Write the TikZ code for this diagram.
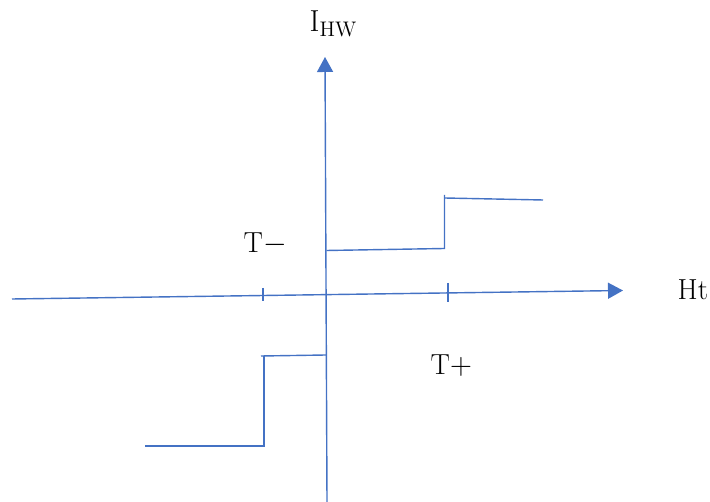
\documentclass[tikz,border=0pt]{standalone}
\usepackage{amsmath}
\usetikzlibrary{arrows.meta, positioning}
\definecolor{axisblue}{RGB}{68,114,196}

\begin{document}
\begin{tikzpicture}[x=0.02cm,y=-0.02cm,line width=0.8pt,
		axis/.style={draw=axisblue,-{Triangle[length=0.3cm,width=0.32cm]}},
		curve/.style={draw=axisblue},
		lbl/.style={font=\fontsize{16.5}{20}\selectfont,inner sep=0pt}]
	\useasboundingbox (0,0) rectangle (710,502);
	% axes
	\coordinate (hl) at (12,299);
	\coordinate (hr) at (623,290.5);
	\coordinate (vb) at (327,502);
	\coordinate (vt) at (325,57);
	\draw[axis] (hl) -- (hr);
	\draw[axis] (vb) -- (vt);
	% ticks
	\coordinate (tma) at (263,288);
	\coordinate (tmb) at (263,301);
	\coordinate (tpa) at (448,283);
	\coordinate (tpb) at (448,302.5);
	\draw[curve] (tma) -- (tmb);
	\draw[curve] (tpa) -- (tpb);
	% upper step
	\coordinate (u1) at (326.5,250.5);
	\coordinate (u2) at (444.5,248.5);
	\coordinate (u3) at (444.5,195);
	\coordinate (u4) at (444.5,198);
	\coordinate (u5) at (543,200);
	\draw[curve] (u1) -- (u2) -- (u3);
	\draw[curve] (u4) -- (u5);
	% lower step
	\coordinate (l1) at (145,446);
	\coordinate (l2) at (264,446);
	\coordinate (l3) at (264,356);
	\coordinate (l4) at (261,356);
	\coordinate (l5) at (326,355);
	\draw[curve] (l1) -- (l2) -- (l3);
	\draw[curve] (l4) -- (l5);
	% labels
	\node[lbl,anchor=base west] (ihw) at (309,32) {$\mathrm{I}_{\mathrm{HW}}$};
	\node[lbl,anchor=base west] (ht) at (677,300) {Ht};
	\node[lbl,anchor=base west] (tminus) at (243,253) {T$-$};
	\node[lbl,anchor=base west] (tplus) at (430,375) {T$+$};
\end{tikzpicture}
\end{document}
